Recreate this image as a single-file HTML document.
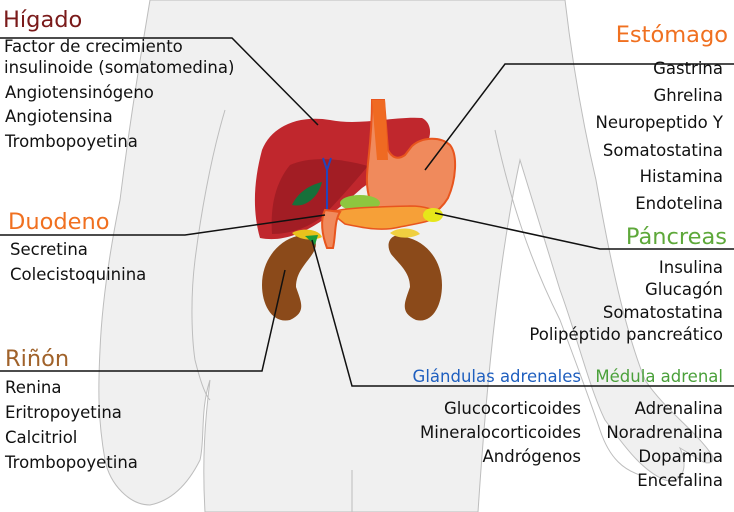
<!DOCTYPE html>
<html><head><meta charset="utf-8"><style>
html,body{margin:0;padding:0;background:#fff;}
svg{display:block}
text{font-family:"DejaVu Sans","Liberation Sans",sans-serif;font-size:16.5px;fill:#111}
.h{font-size:22.5px}
.r{text-anchor:end}
</style></head><body>
<svg width="734" height="512" viewBox="0 0 734 512" xmlns="http://www.w3.org/2000/svg">
<g fill="#f0f0f0" stroke="#bdbdbd" stroke-width="1">
<path d="M150,0 L565,0 C572,60 582,120 596,180 C610,260 625,330 645,380 C665,410 695,430 712,455 C716,462 708,466 700,460 L680,448 C690,470 680,485 665,480 C640,470 620,440 605,420 C590,390 575,330 560,290 L520,160 C505,230 490,330 478,512 L205,512 C202,460 205,420 210,380 C200,410 205,440 200,460 C190,480 175,500 150,505 C130,505 110,485 105,460 C98,420 98,390 100,350 C102,300 110,250 120,200 C130,120 140,60 150,0 Z"/>
</g>
<g fill="none" stroke="#bdbdbd" stroke-width="1">
<path d="M225,110 C210,160 200,220 195,260 C190,300 192,340 195,360 C200,380 205,395 210,400"/>
<path d="M495,130 C510,200 530,260 560,320 C575,360 590,400 600,430 C610,460 625,470 640,475"/>
<path d="M352,512 L352,470"/>
</g>
<path d="M262,150 C272,125 300,115 330,120 C360,126 395,116 422,118 C434,124 432,142 420,152 C400,168 380,175 362,188 C345,203 335,212 320,222 C300,235 280,242 260,238 C252,210 254,180 262,150Z" fill="#c0272d"/>
<path d="M290,165 C310,156 340,158 368,166 C352,185 337,202 322,217 C307,228 290,234 272,234 C270,205 276,182 290,165Z" fill="#a21d24"/>
<path d="M292,205 C298,192 310,185 322,182 C318,198 305,208 292,205Z" fill="#17703a"/>
<path d="M323,158 L327,170 L331,158 M327,170 L327,232" stroke="#2244bb" stroke-width="2" fill="none"/>
<path d="M372,100 L384,100 L388,150 C392,158 398,160 405,155 L412,146 C422,137 440,136 450,145 C458,155 456,180 448,198 C438,215 420,222 400,224 C385,224 374,215 370,200 C362,175 372,160 372,100Z" fill="#f08a5c" stroke="#e8551e" stroke-width="2"/>
<path d="M372,100 L385,100 L388,160 L377,160Z" fill="#ef6a22"/>
<ellipse cx="360" cy="203" rx="20" ry="8" fill="#8dc63f"/>
<path d="M330,212 C350,207 380,207 410,206 C425,206 435,209 440,216 C430,222 415,224 400,227 C380,232 360,227 345,224 Z" fill="#f6a038" stroke="#e8551e" stroke-width="1.5"/>
<ellipse cx="433" cy="215" rx="10" ry="7" fill="#e6e61a"/>
<path d="M325,210 C320,220 322,235 327,248 L333,248 C336,235 334,222 340,212Z" fill="#f08a5c" stroke="#e8551e" stroke-width="2"/>
<path d="M297,236 C314,231 320,242 313,253 C306,264 296,272 296,287 C301,302 307,312 290,320 C273,324 262,306 262,285 C262,260 278,241 297,236Z" fill="#8b4a1a"/>
<path d="M405,237 C393,231 384,242 391,254 C399,264 410,272 410,287 C405,302 399,312 416,320 C432,324 442,306 442,285 C442,260 426,241 405,237Z" fill="#8b4a1a"/>
<path d="M292,233 C300,228 318,228 322,237 C315,241 300,241 292,233Z" fill="#e9c21c"/>
<path d="M305,236 L318,235 L315,245Z" fill="#1a9a3a"/>
<path d="M390,233 C400,226 415,228 420,234 C410,239 398,239 390,233Z" fill="#f0d040"/>
<g fill="none" stroke="#111" stroke-width="1.5">
<path d="M0,38 L232,38 L318,125"/>
<path d="M734,64 L505,64 L425,170"/>
<path d="M0,235 L185,235 L325,215"/>
<path d="M734,249 L600,249 L435,213"/>
<path d="M0,371 L262,371 L285,270"/>
<path d="M734,386 L352,386 L312,240"/>
</g>
<text x="3" y="27" class="h" style="fill:#7a1a1a">Hígado</text>
<text x="4" y="52">Factor de crecimiento</text>
<text x="4" y="73">insulinoide (somatomedina)</text>
<text x="5" y="98">Angiotensinógeno</text>
<text x="5" y="122">Angiotensina</text>
<text x="5" y="147">Trombopoyetina</text>
<text x="728" y="42" class="h r" style="fill:#f07020">Estómago</text>
<text x="723" y="74" class="r">Gastrina</text>
<text x="723" y="101" class="r">Ghrelina</text>
<text x="723" y="128" class="r">Neuropeptido Y</text>
<text x="723" y="156" class="r">Somatostatina</text>
<text x="723" y="182" class="r">Histamina</text>
<text x="723" y="209" class="r">Endotelina</text>
<text x="8" y="229" class="h" style="fill:#f07020">Duodeno</text>
<text x="10" y="255">Secretina</text>
<text x="10" y="280">Colecistoquinina</text>
<text x="727" y="244" class="h r" style="fill:#5ea83a">Páncreas</text>
<text x="723" y="273" class="r">Insulina</text>
<text x="723" y="295" class="r">Glucagón</text>
<text x="723" y="318" class="r">Somatostatina</text>
<text x="723" y="340" class="r">Polipéptido pancreático</text>
<text x="5" y="366" class="h" style="fill:#a0622a">Riñón</text>
<text x="5" y="393">Renina</text>
<text x="5" y="418">Eritropoyetina</text>
<text x="5" y="443">Calcitriol</text>
<text x="5" y="468">Trombopoyetina</text>
<text x="581" y="382" class="r" style="fill:#1f5fbf">Glándulas adrenales</text>
<text x="723" y="382" class="r" style="fill:#4aa03a">Médula adrenal</text>
<text x="581" y="414" class="r">Glucocorticoides</text>
<text x="581" y="438" class="r">Mineralocorticoides</text>
<text x="581" y="462" class="r">Andrógenos</text>
<text x="723" y="414" class="r">Adrenalina</text>
<text x="723" y="438" class="r">Noradrenalina</text>
<text x="723" y="462" class="r">Dopamina</text>
<text x="723" y="486" class="r">Encefalina</text>
</svg>
</body></html>
